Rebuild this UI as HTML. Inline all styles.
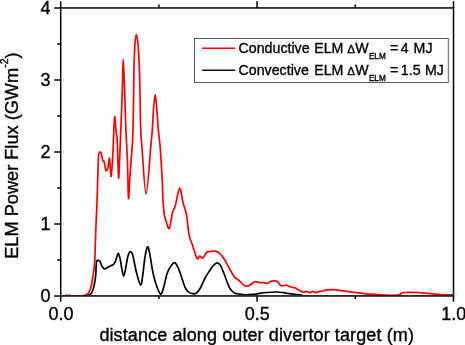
<!DOCTYPE html>
<html><head><meta charset="utf-8"><title>ELM Power Flux</title>
<style>
html,body{margin:0;padding:0;background:#fff;}
svg{display:block;}
text{font-family:"Liberation Sans",Arial,sans-serif;fill:#000;stroke:#000;stroke-width:0.35px;}
</style></head><body>
<svg width="465" height="345" viewBox="0 0 465 345">
<rect width="465" height="345" fill="#fff"/>
<clipPath id="plot"><rect x="60.7" y="7.95" width="392.80" height="287.25"/></clipPath>
<g clip-path="url(#plot)">
<path d="M61.50 296.00C64.58 296.00 75.72 296.10 80.00 296.00C84.28 295.90 85.47 295.70 87.20 295.40C88.93 295.10 89.47 295.02 90.40 294.20C91.33 293.38 92.12 292.28 92.80 290.50C93.48 288.72 94.02 286.02 94.50 283.50C94.98 280.98 95.42 278.48 95.70 275.40C95.98 272.32 96.02 267.43 96.20 265.00C96.38 262.57 96.50 261.58 96.80 260.80C97.10 260.02 97.48 260.23 98.00 260.30C98.52 260.37 99.33 260.42 99.90 261.20C100.47 261.98 100.85 263.88 101.40 265.00C101.95 266.12 102.62 267.23 103.20 267.90C103.78 268.57 104.13 269.10 104.90 269.00C105.67 268.90 106.73 267.88 107.80 267.30C108.87 266.72 110.33 265.98 111.30 265.50C112.27 265.02 112.92 265.07 113.60 264.40C114.28 263.73 114.92 262.57 115.40 261.50C115.88 260.43 116.02 259.37 116.50 258.00C116.98 256.63 117.68 253.08 118.30 253.30C118.92 253.52 119.58 256.55 120.20 259.30C120.82 262.05 121.42 267.03 122.00 269.80C122.58 272.57 123.13 275.90 123.70 275.90C124.27 275.90 124.82 272.57 125.40 269.80C125.98 267.03 126.62 262.05 127.20 259.30C127.78 256.55 128.35 254.57 128.90 253.30C129.45 252.03 129.92 251.57 130.50 251.70C131.08 251.83 131.93 253.12 132.40 254.10C132.87 255.08 132.58 254.40 133.30 257.60C134.02 260.80 135.48 268.72 136.70 273.30C137.92 277.88 139.58 284.82 140.60 285.10C141.62 285.38 142.08 279.58 142.80 275.00C143.52 270.42 144.12 262.30 144.90 257.60C145.68 252.90 146.68 247.38 147.50 246.80C148.32 246.22 148.98 250.27 149.80 254.10C150.62 257.93 151.38 264.87 152.40 269.80C153.42 274.73 154.53 279.65 155.90 283.70C157.27 287.75 159.30 293.52 160.60 294.10C161.90 294.68 162.60 290.67 163.70 287.20C164.80 283.73 166.03 276.78 167.20 273.30C168.37 269.82 169.45 268.08 170.70 266.30C171.95 264.52 173.38 262.18 174.70 262.60C176.02 263.02 177.30 265.90 178.60 268.80C179.90 271.70 181.37 276.80 182.50 280.00C183.63 283.20 184.33 285.93 185.40 288.00C186.47 290.07 187.73 291.47 188.90 292.40C190.07 293.33 191.20 293.45 192.40 293.60C193.60 293.75 194.77 294.23 196.10 293.30C197.43 292.37 198.95 290.47 200.40 288.00C201.85 285.53 203.35 281.25 204.80 278.50C206.25 275.75 207.65 273.68 209.10 271.50C210.55 269.32 212.18 266.85 213.50 265.40C214.82 263.95 215.85 262.80 217.00 262.80C218.15 262.80 219.25 263.65 220.40 265.40C221.55 267.15 222.73 270.40 223.90 273.30C225.07 276.20 226.30 280.13 227.40 282.80C228.50 285.47 229.32 287.60 230.50 289.30C231.68 291.00 232.98 292.18 234.50 293.00C236.02 293.82 237.78 293.90 239.60 294.20C241.42 294.50 243.27 294.77 245.40 294.80C247.53 294.83 250.08 294.63 252.40 294.40C254.72 294.17 256.98 293.72 259.30 293.40C261.62 293.08 263.40 292.73 266.30 292.50C269.20 292.27 273.80 291.97 276.70 292.00C279.60 292.03 281.37 292.38 283.70 292.70C286.03 293.02 287.82 293.48 290.70 293.90C293.58 294.32 296.12 294.85 301.00 295.20C305.88 295.55 294.67 295.87 320.00 296.00C345.33 296.13 430.83 296.00 453.00 296.00" fill="none" stroke="#000" stroke-width="1.7" stroke-linejoin="round"/>
<path d="M61.50 296.00C62.08 296.00 64.20 296.17 65.00 296.00C65.80 295.83 65.87 295.03 66.30 295.00C66.73 294.97 67.28 295.67 67.60 295.80C67.92 295.93 67.90 295.93 68.20 295.80C68.50 295.67 68.97 294.97 69.40 295.00C69.83 295.03 69.70 295.83 70.80 296.00C71.90 296.17 73.88 296.05 76.00 296.00C78.12 295.95 81.77 295.93 83.50 295.70C85.23 295.47 85.43 295.28 86.40 294.60C87.37 293.92 88.53 292.87 89.30 291.60C90.07 290.33 90.47 289.12 91.00 287.00C91.53 284.88 92.02 281.80 92.50 278.90C92.98 276.00 93.52 272.75 93.90 269.60C94.28 266.45 94.48 266.60 94.80 260.00C95.12 253.40 95.42 240.00 95.80 230.00C96.18 220.00 96.77 209.17 97.10 200.00C97.43 190.83 97.57 182.33 97.80 175.00C98.03 167.67 98.25 159.73 98.50 156.00C98.75 152.27 98.98 153.25 99.30 152.60C99.62 151.95 100.07 151.92 100.40 152.10C100.73 152.28 101.00 152.72 101.30 153.70C101.60 154.68 101.95 156.87 102.20 158.00C102.45 159.13 102.52 159.98 102.80 160.50C103.08 161.02 103.60 160.57 103.90 161.10C104.20 161.63 104.35 162.47 104.60 163.70C104.85 164.93 105.15 167.30 105.40 168.50C105.65 169.70 105.77 170.77 106.10 170.90C106.43 171.03 107.08 169.85 107.40 169.30C107.72 168.75 107.78 168.75 108.00 167.60C108.22 166.45 108.47 163.97 108.70 162.40C108.93 160.83 109.18 157.92 109.40 158.20C109.62 158.48 109.80 161.63 110.00 164.10C110.20 166.57 110.43 170.93 110.60 173.00C110.77 175.07 110.85 176.33 111.00 176.50C111.15 176.67 111.30 175.92 111.50 174.00C111.70 172.08 111.95 168.67 112.20 165.00C112.45 161.33 112.73 157.83 113.00 152.00C113.27 146.17 113.52 135.88 113.80 130.00C114.08 124.12 114.42 117.53 114.70 116.70C114.98 115.87 115.23 122.20 115.50 125.00C115.77 127.80 116.07 131.58 116.30 133.50C116.53 135.42 116.72 134.58 116.90 136.50C117.08 138.42 117.22 140.25 117.40 145.00C117.58 149.75 117.80 159.50 118.00 165.00C118.20 170.50 118.40 177.17 118.60 178.00C118.80 178.83 118.97 174.67 119.20 170.00C119.43 165.33 119.72 157.00 120.00 150.00C120.28 143.00 120.52 138.00 120.90 128.00C121.28 118.00 121.92 101.47 122.30 90.00C122.68 78.53 122.82 59.20 123.20 59.20C123.58 59.20 124.15 78.20 124.60 90.00C125.05 101.80 125.43 118.33 125.90 130.00C126.37 141.67 126.97 148.60 127.40 160.00C127.83 171.40 128.07 195.90 128.50 198.40C128.93 200.90 129.37 183.90 130.00 175.00C130.63 166.10 131.80 152.50 132.30 145.00C132.80 137.50 132.77 139.17 133.00 130.00C133.23 120.83 133.55 100.00 133.70 90.00C133.85 80.00 133.78 75.83 133.90 70.00C134.02 64.17 134.20 59.67 134.40 55.00C134.60 50.33 134.78 45.42 135.10 42.00C135.42 38.58 135.85 34.50 136.30 34.50C136.75 34.50 137.40 38.58 137.80 42.00C138.20 45.42 138.43 50.33 138.70 55.00C138.97 59.67 139.20 64.17 139.40 70.00C139.60 75.83 139.68 80.00 139.90 90.00C140.12 100.00 140.38 120.83 140.70 130.00C141.02 139.17 140.90 134.33 141.80 145.00C142.70 155.67 144.58 194.00 146.10 194.00C147.62 194.00 149.87 155.67 150.90 145.00C151.93 134.33 151.87 135.83 152.30 130.00C152.73 124.17 153.02 115.90 153.50 110.00C153.98 104.10 154.63 94.60 155.20 94.60C155.77 94.60 156.38 104.10 156.90 110.00C157.42 115.90 157.78 124.17 158.30 130.00C158.82 135.83 159.35 136.67 160.00 145.00C160.65 153.33 161.70 170.83 162.20 180.00C162.70 189.17 162.65 194.20 163.00 200.00C163.35 205.80 163.72 211.05 164.30 214.80C164.88 218.55 165.67 220.25 166.50 222.50C167.33 224.75 168.28 230.02 169.30 228.30C170.32 226.58 171.62 215.92 172.60 212.20C173.58 208.48 174.03 209.97 175.20 206.00C176.37 202.03 178.30 188.97 179.60 188.40C180.90 187.83 181.85 198.20 183.00 202.60C184.15 207.00 185.48 209.40 186.50 214.80C187.52 220.20 188.08 229.90 189.10 235.00C190.12 240.10 191.28 241.48 192.60 245.40C193.92 249.32 195.83 256.70 197.00 258.50C198.17 260.30 198.60 256.28 199.60 256.20C200.60 256.12 201.85 258.63 203.00 258.00C204.15 257.37 205.33 253.48 206.50 252.40C207.67 251.32 208.55 251.70 210.00 251.50C211.45 251.30 213.60 250.90 215.20 251.20C216.80 251.50 218.15 252.08 219.60 253.30C221.05 254.52 222.32 256.05 223.90 258.50C225.48 260.95 227.37 264.97 229.10 268.00C230.83 271.03 232.73 274.70 234.30 276.70C235.87 278.70 237.08 278.73 238.50 280.00C239.92 281.27 241.50 283.28 242.80 284.30C244.10 285.32 245.13 285.95 246.30 286.10C247.47 286.25 248.63 285.78 249.80 285.20C250.97 284.62 252.28 283.18 253.30 282.60C254.32 282.02 254.90 281.70 255.90 281.70C256.90 281.70 258.00 282.45 259.30 282.60C260.60 282.75 262.38 282.45 263.70 282.60C265.02 282.75 266.03 283.70 267.20 283.50C268.37 283.30 269.55 281.83 270.70 281.40C271.85 280.97 272.95 280.85 274.10 280.90C275.25 280.95 276.43 280.90 277.60 281.70C278.77 282.50 279.65 285.12 281.10 285.70C282.55 286.28 284.70 284.98 286.30 285.20C287.90 285.42 289.25 286.57 290.70 287.00C292.15 287.43 293.57 287.23 295.00 287.80C296.43 288.37 297.85 289.67 299.30 290.40C300.75 291.13 302.53 292.05 303.70 292.20C304.87 292.35 305.28 291.22 306.30 291.30C307.32 291.38 308.72 292.70 309.80 292.70C310.88 292.70 311.87 291.30 312.80 291.30C313.73 291.30 314.53 292.62 315.40 292.70C316.27 292.78 316.83 292.08 318.00 291.80C319.17 291.52 320.80 291.32 322.40 291.00C324.00 290.68 325.72 290.13 327.60 289.90C329.48 289.67 331.67 289.52 333.70 289.60C335.73 289.68 337.33 290.05 339.80 290.40C342.27 290.75 345.60 291.32 348.50 291.70C351.40 292.08 354.30 292.33 357.20 292.70C360.10 293.07 363.00 293.62 365.90 293.90C368.80 294.18 371.42 294.18 374.60 294.40C377.78 294.62 381.17 295.08 385.00 295.20C388.83 295.32 394.88 295.40 397.60 295.10C400.32 294.80 400.07 293.83 401.30 293.40C402.53 292.97 402.37 292.65 405.00 292.50C407.63 292.35 413.23 292.35 417.10 292.50C420.97 292.65 424.18 293.07 428.20 293.40C432.22 293.73 437.02 294.27 441.20 294.50C445.38 294.73 451.28 294.75 453.30 294.80" fill="none" stroke="#f00" stroke-width="1.7" stroke-linejoin="round"/>
</g>
<rect x="60.7" y="7.95" width="392.80" height="288.00" fill="none" stroke="#000" stroke-width="1.5"/>
<path d="M60.70 295.95 v5.9M60.70 7.95 v-6.6M158.90 295.95 v3.0M158.90 7.95 v-3.4M257.10 295.95 v5.9M257.10 7.95 v-6.6M355.30 295.95 v3.0M355.30 7.95 v-3.4M453.50 295.95 v5.9M453.50 7.95 v-6.6M60.7 295.95 h-6.5M60.7 259.95 h-3.6M60.7 223.95 h-6.5M60.7 187.95 h-3.6M60.7 151.95 h-6.5M60.7 115.95 h-3.6M60.7 79.95 h-6.5M60.7 43.95 h-3.6M60.7 7.95 h-6.5" fill="none" stroke="#000" stroke-width="1.5"/>
<g font-size="18" text-anchor="end">
<text x="50.6" y="13.8">4</text>
<text x="50.6" y="85.8">3</text>
<text x="50.6" y="157.8">2</text>
<text x="50.6" y="229.8">1</text>
<text x="50.6" y="302.0">0</text>
</g>
<g font-size="18" text-anchor="middle">
<text x="61" y="320.3">0.0</text>
<text x="257.2" y="320.3">0.5</text>
<text x="441.3" y="320.3" text-anchor="start">1.0</text>
</g>
<text x="99.4" y="341.1" font-size="18" textLength="314.5" lengthAdjust="spacing">distance along outer divertor target (m)</text>
<text transform="translate(17.6 258.8) rotate(-90)" font-size="18.2">ELM Power Flux (GWm<tspan font-size="10.5" dy="-9.5">-2</tspan><tspan dy="9.5">)</tspan></text>
<rect x="194.5" y="38.5" width="253.8" height="44" fill="#fff" stroke="#5a5a5a" stroke-width="1"/>
<path d="M202.1 48.15H235.3" stroke="#f00" stroke-width="1.5"/>
<path d="M202.1 70.15H235.3" stroke="#111" stroke-width="1.45"/>
<g font-size="14.2">
<text y="52.5"><tspan x="238.6">Conductive</tspan> <tspan x="314.2">ELM</tspan> <tspan x="347.3" font-size="11.6">Δ</tspan><tspan x="355.3">W</tspan><tspan x="368.9" dy="6" font-size="8.2">ELM</tspan> <tspan x="390" dy="-6">=</tspan> <tspan x="400.8">4</tspan> <tspan x="413.6">MJ</tspan></text>
<text y="74.6"><tspan x="238.6">Convective</tspan> <tspan x="314.2">ELM</tspan> <tspan x="347.3" font-size="11.6">Δ</tspan><tspan x="355.3">W</tspan><tspan x="368.9" dy="6" font-size="8.2">ELM</tspan> <tspan x="390" dy="-6">=</tspan> <tspan x="400.8">1.5</tspan> <tspan x="424.9">MJ</tspan></text>
</g>
</svg>
</body></html>
